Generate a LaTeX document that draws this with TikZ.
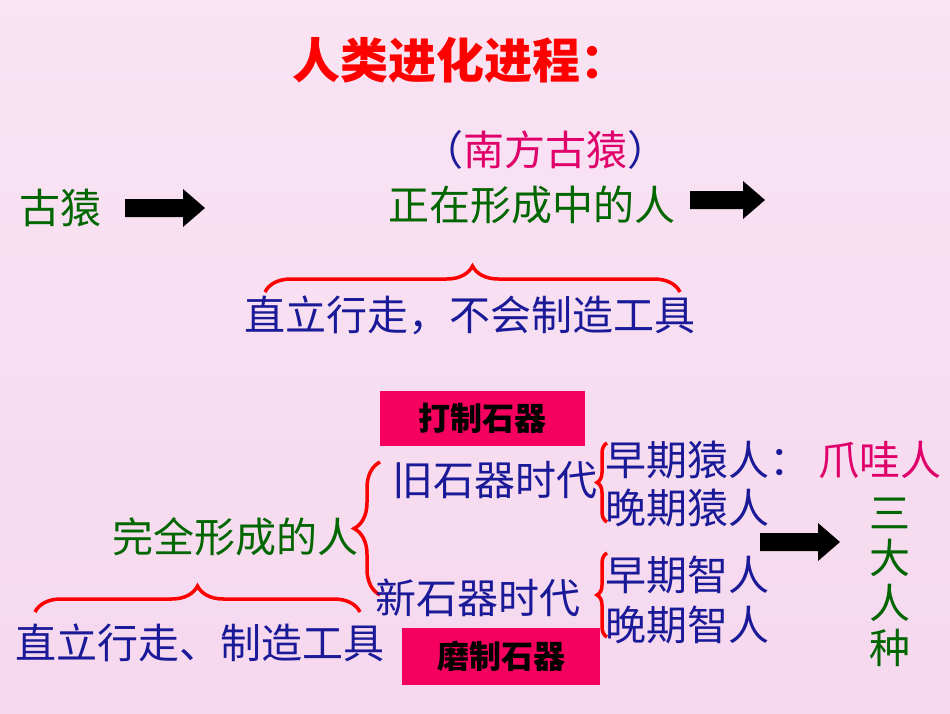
\documentclass[tikz,border=0pt]{standalone}
\usepackage{fontspec}
\newfontfamily\cjk{Noto Sans CJK SC}
\usetikzlibrary{decorations.pathreplacing}
\definecolor{dg}{HTML}{006600}
\definecolor{db}{HTML}{1A1A99}
\definecolor{rd}{HTML}{FF0000}
\definecolor{pk}{HTML}{E0006A}
\definecolor{bx}{HTML}{F5005F}
\definecolor{bg}{HTML}{F6D8EE}
\tikzset{
 t/.style={font=\cjk\fontsize{41}{43}\selectfont,inner sep=0pt,anchor=center},
 g/.style={t,text=dg}, b/.style={t,text=db},
 boxed/.style={fill=bx,text=black,font=\cjk\bfseries\fontsize{32}{34}\selectfont,minimum width=205pt,minimum height=55pt},
 br/.style={draw=rd,line width=3.5pt,decorate,decoration={brace,amplitude=26pt}},
}
\newcommand{\blockarrow}[3]{\fill (#1,#3-9) -- (#2-22,#3-9) -- (#2-22,#3-19) -- (#2,#3) -- (#2-22,#3+19) -- (#2-22,#3+9) -- (#1,#3+9) -- cycle;}
\begin{document}
\begin{tikzpicture}[x=1pt,y=-1pt]
\useasboundingbox (0,0) rectangle (950,713);
\fill[top color=bg!70!white,bottom color=bg] (0,0) rectangle (950,713);
\node[t,text=rd,font=\cjk\bfseries\fontsize{48}{50}\selectfont] (title) at (460,60) {人类进化进程：};
\node[b] (nf) at (545,150) {（\textcolor{pk}{南方古猿}）};
\node[g] (gy) at (60,208) {古猿};
\blockarrow{125}{205}{208}
\node[g] (zz) at (532,205) {正在形成中的人};
\blockarrow{690}{765}{200}
\draw[br] (265,292) -- (680,292);
\node[b] (zl1) at (470,315) {直立行走，不会制造工具};
\node[boxed] (dz) at (482,418) {打制石器};
\draw[br] (380,595) -- (380,462);
\node[b] (jiu) at (495,480) {旧石器时代};
\draw[br,decoration={amplitude=10pt}] (607,522) -- (607,443);
\node[b,anchor=west] (zq) at (605,460) {早期猿人：};
\node[t,text=pk] (zw) at (880,460) {爪哇人};
\node[b,anchor=west] (wq) at (605,508) {晚期猿人};
\node[g] (wq2) at (235,537) {完全形成的人};
\blockarrow{760}{840}{542}
\node[g,align=center,font=\cjk\fontsize{41}{45}\selectfont] (sd) at (890,582) {三\\大\\人\\种};
\node[b] (xin) at (478,598) {新石器时代};
\draw[br,decoration={amplitude=10pt}] (607,637) -- (607,553);
\node[b,anchor=west] (zz1) at (605,575) {早期智人};
\node[b,anchor=west] (wz) at (605,625) {晚期智人};
\draw[br] (35,612) -- (360,612);
\node[b] (zl2) at (200,643) {直立行走、制造工具};
\node[boxed,minimum width=198pt,minimum height=57pt] (mz) at (501,656) {磨制石器};
\end{tikzpicture}
\end{document}
